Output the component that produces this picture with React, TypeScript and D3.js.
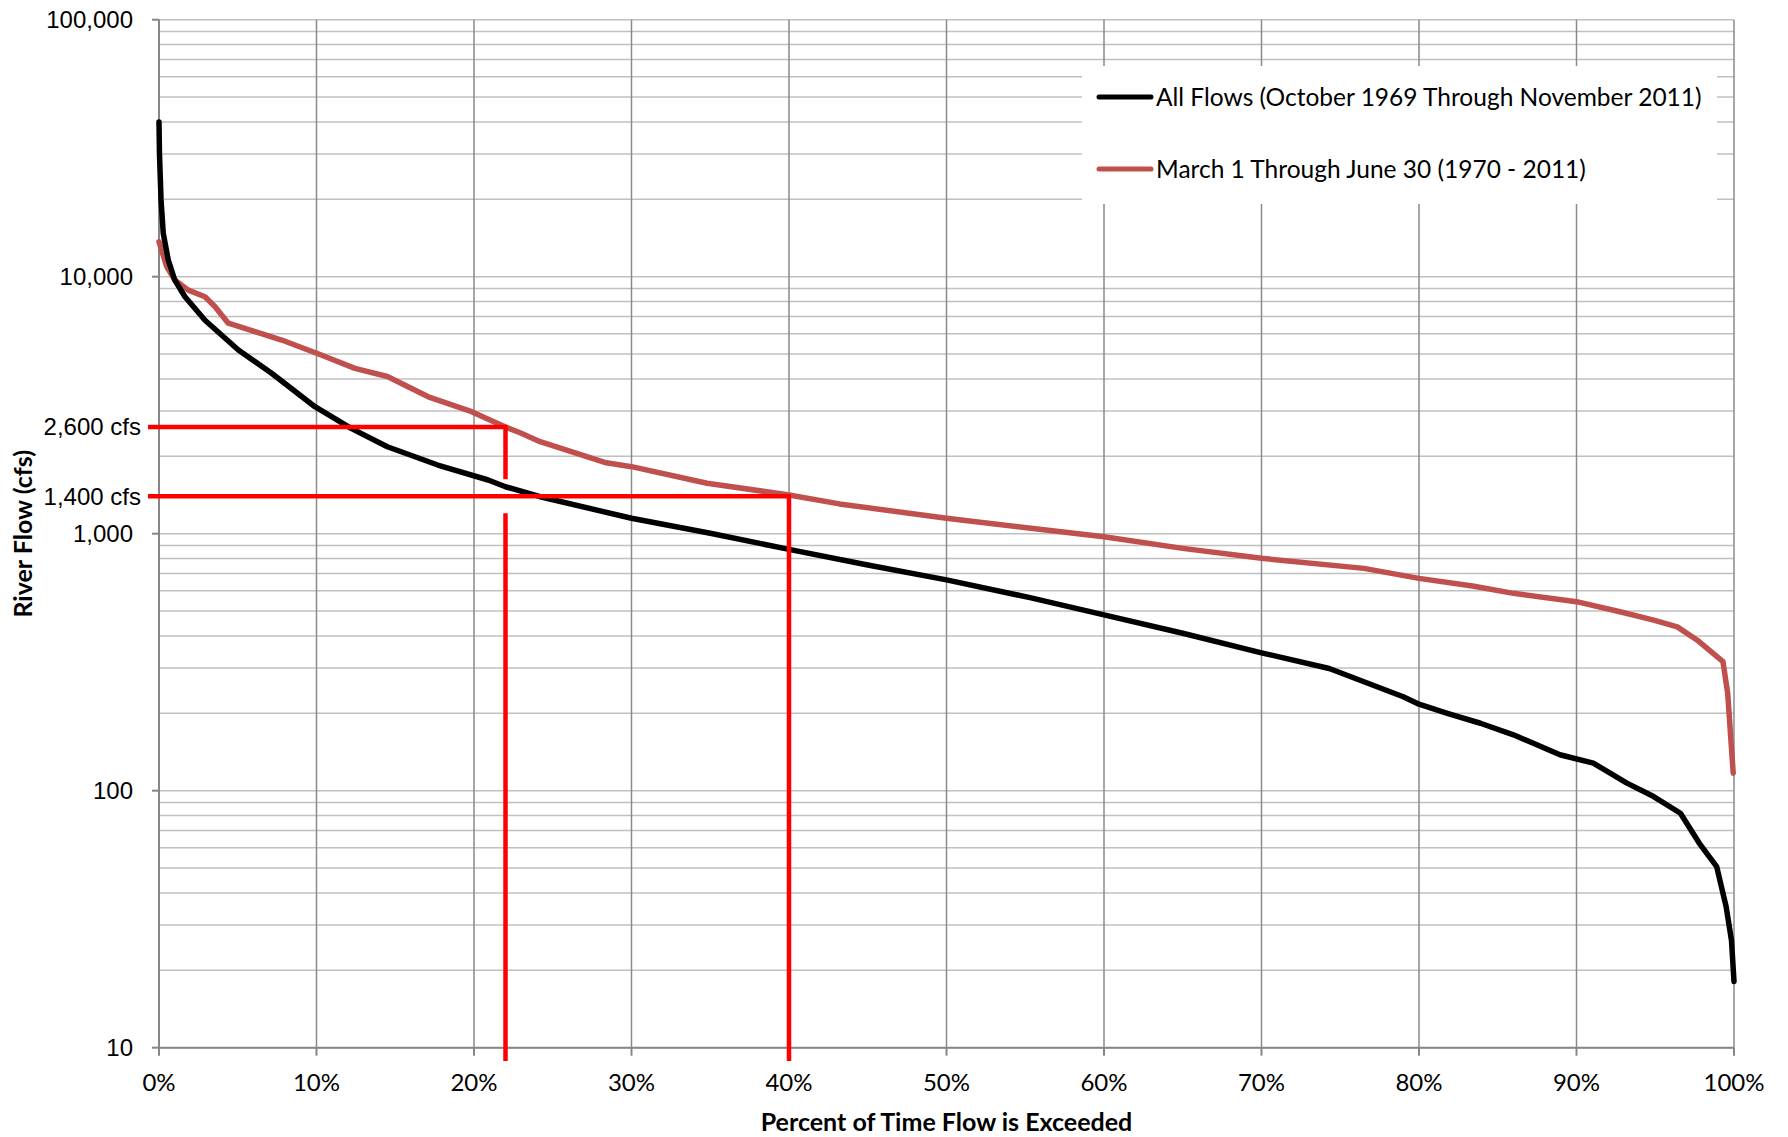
import React from 'react';
import * as d3 from 'd3';

// flow duration curve
const allFlowsPct = [0, 0.03, 0.13, 0.27, 0.59, 1.0, 1.65, 2.92, 5.04, 7.15, 9.9, 12.2, 14.5, 17.7, 20.9, 22, 24.2, 30, 35, 40, 45, 50, 55.3, 60, 65, 70, 74.3, 79, 80, 81.8, 83.9, 86, 88.95, 91.07, 93.2, 94.9, 96.6, 97.8, 98.9, 99.5, 99.84, 100];
const allFlowsCfs = [40000, 30000, 19900, 14750, 11600, 9710, 8360, 6770, 5185, 4210, 3120, 2570, 2180, 1850, 1618, 1523, 1393, 1148, 1004, 869, 755, 661, 564, 483, 410, 344, 299, 232, 217, 200, 183, 165, 138, 128, 107, 94.9, 81.7, 62.4, 50.6, 35.4, 26.2, 18.1];

const springPct = [0, 0.49, 1.0, 1.86, 2.92, 3.56, 4.4, 6.1, 7.79, 10.3, 12.44, 14.5, 17.1, 19.85, 22, 23, 24.2, 28.4, 30, 34.8, 40, 43.2, 50, 55.9, 60, 65, 70, 76.5, 80, 83.4, 86, 90, 92.76, 94.9, 96.4, 97.65, 99.3, 99.6, 99.95];
const springCfs = [13680, 10940, 9710, 8870, 8360, 7640, 6590, 6110, 5670, 4960, 4400, 4090, 3410, 2985, 2600, 2460, 2280, 1888, 1823, 1571, 1415, 1306, 1148, 1040, 973, 877, 802, 733, 670, 626, 586, 544, 497, 461, 434, 386, 318, 239, 117];

const seriesNames = ['All Flows (October 1969 Through November 2011)', 'March 1 Through June 30 (1970 - 2011)'];
const seriesColors = ['#000000', '#C0504D'];

const pctTicks = [0, 10, 20, 30, 40, 50, 60, 70, 80, 90, 100];
const flowTicks = [10, 100, 1000, 10000, 100000];

// reference levels marked with red lines
const markerPct = [22, 40];
const markerCfs = [2600, 1400];
const markerLabels = ['2,600 cfs', '1,400 cfs'];

const W = 1788;
const H = 1137;
const left = 159;
const right = 1734;
const top = 19.7;
const bottom = 1047.7;

const calibri = 'Lato, "Open Sans", sans-serif';
const arial = '"Liberation Sans", Arial, sans-serif';

export default function App() {
  const x = d3.scaleLinear().domain([0, 100]).range([left, right]);
  const y = d3.scaleLog().domain([10, 100000]).range([bottom, top]);

  const minor: number[] = [];
  flowTicks.slice(0, -1).forEach((d) => {
    for (let k = 2; k <= 9; k++) minor.push(d * k);
  });

  const line = d3
    .line<[number, number]>()
    .x((d) => x(d[0]))
    .y((d) => y(d[1]));

  const allPts = allFlowsPct.map((p, i) => [p, allFlowsCfs[i]] as [number, number]);
  const springPts = springPct.map((p, i) => [p, springCfs[i]] as [number, number]);

  const legX = 1082;
  const legY = 66;
  const rows = [97, 169];

  const redBottom = 1061;
  const gap = 17;

  return (
    <svg
      width={W}
      height={H}
      style={{ position: 'absolute', left: 0, top: 0, background: '#fff' }}
    >
      {/* horizontal grid */}
      {[...flowTicks, ...minor].map((v) => (
        <line key={'h' + v} x1={left} x2={right} y1={y(v)} y2={y(v)} stroke="#c0c0c0" strokeWidth={1.5} />
      ))}
      {/* vertical grid */}
      {pctTicks.map((p) => (
        <line key={'v' + p} x1={x(p)} x2={x(p)} y1={top} y2={bottom} stroke="#8a8a8a" strokeWidth={1.5} />
      ))}

      {/* legend */}
      <rect x={legX} y={legY} width={1717 - legX} height={204 - legY} fill="#fff" />
      {seriesNames.map((name, i) => (
        <g key={name}>
          <line x1={1099} x2={1151} y1={rows[i]} y2={rows[i]} stroke={seriesColors[i]} strokeWidth={5} strokeLinecap="round" />
          <text x={1156} y={rows[i]} dy="0.35em" fontFamily={calibri} fontSize={24.5} fill="#000">
            {name}
          </text>
        </g>
      ))}

      {/* axes */}
      <line x1={left} x2={left} y1={top} y2={bottom} stroke="#868686" strokeWidth={2} />
      <line x1={left} x2={right} y1={bottom} y2={bottom} stroke="#868686" strokeWidth={2} />
      {flowTicks.map((v) => (
        <line key={'yt' + v} x1={left - 7} x2={left} y1={y(v)} y2={y(v)} stroke="#868686" strokeWidth={2} />
      ))}
      {pctTicks.map((p) => (
        <line key={'xt' + p} x1={x(p)} x2={x(p)} y1={bottom} y2={bottom + 8} stroke="#868686" strokeWidth={2} />
      ))}

      {/* curves */}
      <path d={line(springPts) || ''} fill="none" stroke={seriesColors[1]} strokeWidth={5.5} strokeLinejoin="round" strokeLinecap="round" />
      <path d={line(allPts) || ''} fill="none" stroke={seriesColors[0]} strokeWidth={5.5} strokeLinejoin="round" strokeLinecap="round" />

      {/* red reference lines */}
      {markerPct.map((p, i) => (
        <line key={'mh' + p} x1={148} x2={x(p) + 2} y1={y(markerCfs[i])} y2={y(markerCfs[i])} stroke="#ff0000" strokeWidth={4.5} />
      ))}
      <line x1={x(markerPct[0])} x2={x(markerPct[0])} y1={y(markerCfs[0])} y2={y(markerCfs[1]) - gap} stroke="#ff0000" strokeWidth={4.5} />
      <line x1={x(markerPct[0])} x2={x(markerPct[0])} y1={y(markerCfs[1]) + gap} y2={redBottom} stroke="#ff0000" strokeWidth={4.5} />
      <line x1={x(markerPct[1])} x2={x(markerPct[1])} y1={y(markerCfs[1])} y2={redBottom} stroke="#ff0000" strokeWidth={4.5} />

      {/* tick labels */}
      {flowTicks.map((v) => (
        <text key={'yl' + v} x={133} y={y(v)} dy="0.35em" textAnchor="end" fontFamily={arial} fontSize={24} fill="#000">
          {d3.format(',')(v)}
        </text>
      ))}
      {markerLabels.map((t, i) => (
        <text key={t} x={141} y={y(markerCfs[i])} dy="0.35em" textAnchor="end" fontFamily={arial} fontSize={24} fill="#000">
          {t}
        </text>
      ))}
      {pctTicks.map((p) => (
        <text key={'xl' + p} x={x(p)} y={1083} dy="0.35em" textAnchor="middle" fontFamily={calibri} fontSize={24} fill="#000">
          {p + '%'}
        </text>
      ))}

      {/* axis titles */}
      <text x={(left + right) / 2} y={1122} dy="0.35em" textAnchor="middle" fontFamily={calibri} fontWeight="bold" fontSize={25} fill="#000">
        Percent of Time Flow is Exceeded
      </text>
      <text
        transform={`translate(23,${(top + bottom) / 2}) rotate(-90)`}
        dy="0.35em"
        textAnchor="middle"
        fontFamily={calibri}
        fontWeight="bold"
        fontSize={25}
        fill="#000"
      >
        River Flow (cfs)
      </text>
    </svg>
  );
}
